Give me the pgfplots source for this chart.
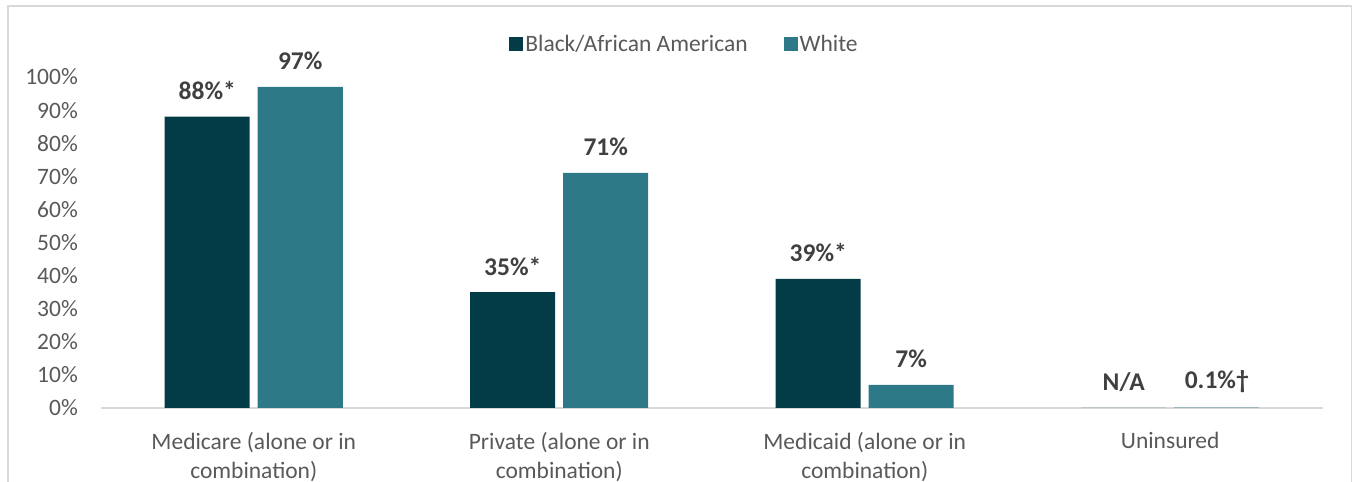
\documentclass[border=0pt]{standalone}
\usepackage{fontspec}
\setmainfont{Carlito}
\usepackage{pgfplots}
\pgfplotsset{compat=1.18}
\definecolor{darkteal}{RGB}{3,59,71}
\definecolor{tealb}{RGB}{46,121,135}
\definecolor{txt}{RGB}{89,89,89}
\definecolor{lbl}{RGB}{64,64,64}
\definecolor{brd}{RGB}{217,217,217}
\begin{document}
\begin{tikzpicture}[x=1pt,y=1pt]
\useasboundingbox (0,0) rectangle (1353,482);
\draw[brd, line width=1.5pt] (8,0) -- (8,476) -- (1351.5,476) -- (1351.5,0);
\begin{axis}[
  at={(101pt,74pt)}, anchor=south west,
  scale only axis, width=1222pt, height=331pt,
  ymin=0, ymax=100, xmin=-0.5, xmax=3.5,
  ybar=8pt, bar width=85pt,
  axis x line*=bottom, axis y line*=left,
  y axis line style={draw=none},
  x axis line style={brd, line width=1.5pt},
  major tick length=0pt,
  ytick={0,10,...,100},
  yticklabels={0\%,10\%,20\%,30\%,40\%,50\%,60\%,70\%,80\%,90\%,100\%},
  xtick={0,1,2,3},
  xticklabels={{Medicare (alone or in\\combination)},{Private (alone or in\\combination)},{Medicaid (alone or in\\combination)},{Uninsured}},
  tick label style={font=\fontsize{23.5}{29}\selectfont, text=txt},
  yticklabel style={anchor=east, inner sep=0pt, xshift=-23pt},
  xticklabel style={align=center, anchor=north, inner sep=0pt, yshift=-24pt},
  clip=false,
  nodes near coords,
  point meta=explicit symbolic,
  every node near coord/.append style={font=\fontsize{25.5}{30}\selectfont\bfseries, text=lbl, anchor=center, yshift=26pt},
  legend style={at={(0.4775,1.0997)}, anchor=center, draw=none, fill=none,
    legend columns=2, font=\fontsize{23.5}{29}\selectfont, text=txt,
    /tikz/every even column/.append style={column sep=34pt}},
  legend image code/.code={\fill[#1] (-5pt,-7pt) rectangle (9pt,7pt);},
]
\addplot[fill=darkteal, draw=none] coordinates {(0,88) [88\%*] (1,35) [35\%*] (2,39) [39\%*] (3,0) [N/A]};
\addplot[fill=tealb, draw=none] coordinates {(0,97) [97\%] (1,71) [71\%] (2,7) [7\%] (3,0.1) [0.1\%†]};
\legend{Black/African American, White}
\end{axis}
\end{tikzpicture}
\end{document}
